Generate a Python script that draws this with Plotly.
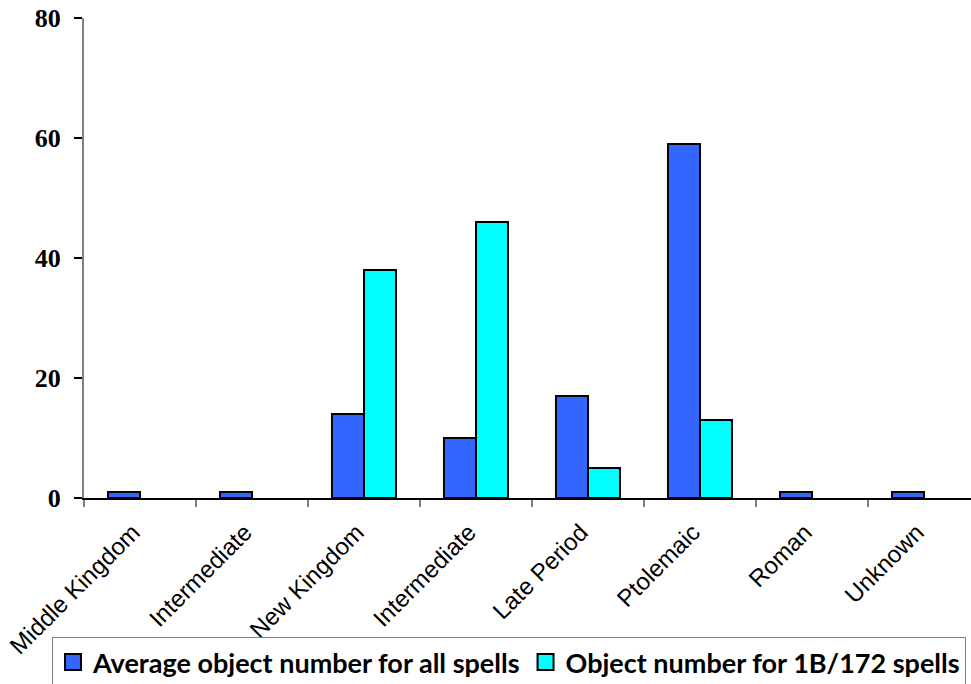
import plotly.graph_objects as go

categories = ["Middle Kingdom", "Intermediate", "New Kingdom", "Intermediate",
              "Late Period", "Ptolemaic", "Roman", "Unknown"]
avg_all_spells = [1, 1, 14, 10, 17, 59, 1, 1]
spells_1b_172 = [None, None, 38, 46, 5, 13, None, None]
series_names = ["Average object number for all spells", "Object number for 1B/172 spells"]
series_colors = ["#3366FF", "#00FFFF"]
y_ticks = [0, 20, 40, 60, 80]

xpos = list(range(len(categories)))

fig = go.Figure()
for vals, name, col in zip([avg_all_spells, spells_1b_172], series_names, series_colors):
    fig.add_trace(go.Bar(x=xpos, y=vals, name=name, showlegend=False,
                         marker=dict(color=col, line=dict(color="black", width=2))))
# legend entries with larger square swatches
for name, col in zip(series_names, series_colors):
    fig.add_trace(go.Scatter(x=[None], y=[None], mode="markers", name=name,
                             marker=dict(symbol="square", size=16, color=col,
                                         line=dict(color="black", width=2))))

W, H = 971, 684
ml, mr, mt = 84, 0, 18
plot_h = 480
mb = H - mt - plot_h
plot_w = W - ml - mr
cat_px = 112
x_max = -0.5 + plot_w / cat_px
zero_y = mt + plot_h

fig.update_layout(
    width=W, height=H,
    margin=dict(l=ml, r=mr, t=mt, b=mb, autoexpand=False),
    paper_bgcolor="white", plot_bgcolor="white",
    barmode="group", bargap=48 / 112, bargroupgap=0,
    showlegend=True,
    legend=dict(
        orientation="h",
        x=(52 - ml) / plot_w, xanchor="left",
        y=(zero_y - 637) / plot_h, yanchor="top",
        bordercolor="#808080", borderwidth=1,
        font=dict(family="Lato", size=27, color="black", weight="bold"),
        traceorder="normal", itemsizing="trace", itemwidth=30,
    ),
)

fig.update_xaxes(
    range=[-0.5, x_max], automargin=False,
    tickmode="array", tickvals=xpos, ticktext=categories,
    tickangle=-45, ticks="", showgrid=False, zeroline=False,
    showline=True, linecolor="black", linewidth=1.5,
    tickfont=dict(family="Liberation Sans", size=24, color="black"),
    ticklabelstandoff=9, ticklabelshift=-7,
    minor=dict(tickmode="array", tickvals=[i - 0.5 for i in range(len(categories) + 1)],
               ticks="outside", ticklen=7, tickcolor="#808080", tickwidth=1.5, showgrid=False),
)
fig.update_yaxes(
    range=[0, 80], automargin=False, tickmode="array", tickvals=y_ticks,
    ticks="outside", ticklen=8, tickcolor="black", tickwidth=1.5,
    showgrid=False, zeroline=False,
    showline=True, linecolor="#808080", linewidth=2,
    tickfont=dict(family="Liberation Serif", size=26, color="black", weight="bold"),
    ticklabelstandoff=8, ticklabeloverflow="allow",
)

fig.write_html("out.html", config={"displayModeBar": False},
               post_script="document.body.style.margin='0';")
